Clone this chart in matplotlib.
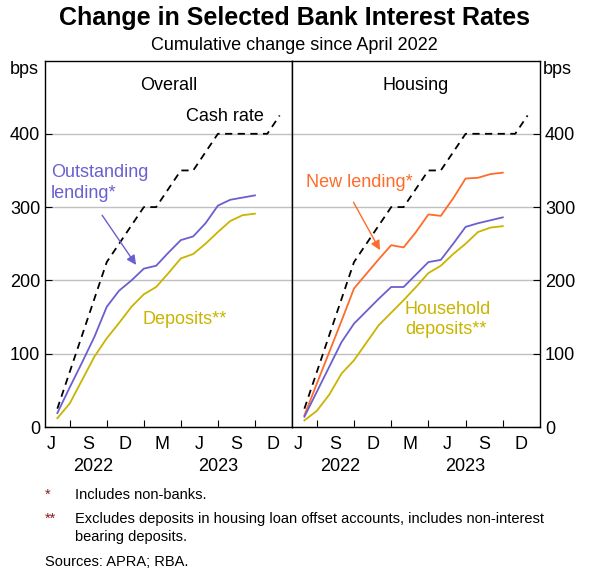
"""Change in selected bank interest rates: overall vs housing panels."""

import matplotlib
matplotlib.use("Agg")
import matplotlib.pyplot as plt

plt.rcParams["font.family"] = ["Liberation Sans", "DejaVu Sans"]

# months since end-June 2022 (month-end observations)
months = list(range(17))
cash_t = [0, 4, 5, 6, 7, 8, 9, 10, 11, 12, 13, 17, 18]
cash = [25, 225, 250, 275, 300, 300, 325, 350, 350, 375, 400, 400, 425]

overall_lending = [19, 54, 88, 123, 164, 186, 200, 216, 220, 238, 255, 260, 278, 302, 310, 313, 316]
overall_deposits = [12, 32, 64, 96, 121, 142, 164, 181, 191, 210, 230, 236, 250, 266, 281, 289, 291]

housing_new = [16, 59, 102, 145, 189, 209, 229, 248, 245, 266, 290, 288, 312, 339, 340, 345, 347]
housing_outstanding = [14, 48, 82, 116, 141, 158, 175, 191, 191, 208, 225, 228, 250, 273, 278, 282, 286]
housing_deposits = [9, 22, 44, 73, 91, 115, 139, 156, 173, 191, 210, 220, 236, 250, 266, 272, 274]

month_labels = ["J", "S", "D", "M", "J", "S", "D"]
month_pos = [-0.5, 2.5, 5.5, 8.5, 11.5, 14.5, 17.5]
year_labels = ["2022", "2023"]
year_pos = [2.9, 13.0]
yticks = [0, 100, 200, 300, 400]

PURPLE = "#6a5fd0"
GOLD = "#c9b400"
ORANGE = "#ff6b2b"
FS = 13

W, H = 589, 580
fig = plt.figure(figsize=(W / 100, H / 100), dpi=100)
ax_l = fig.add_axes([45 / W, 1 - 427 / H, 247 / W, 366.5 / H])
ax_r = fig.add_axes([292 / W, 1 - 427 / H, 248 / W, 366.5 / H])

for ax, title in [(ax_l, "Overall"), (ax_r, "Housing")]:
    ax.set_xlim(-1, 19)
    ax.set_ylim(0, 500)
    ax.set_yticks(yticks)
    ax.grid(axis="y", color="#c0c0c0", lw=1)
    ax.set_axisbelow(True)
    ax.set_xticks([1, 4, 7, 10, 13, 16], labels=[])
    ax.tick_params(axis="x", direction="in", length=5)
    ax.tick_params(axis="y", direction="in", length=5, labelsize=FS)
    for s in ax.spines.values():
        s.set_linewidth(1)
    ax.text(0.5, 0.955, title, transform=ax.transAxes, ha="center", va="top", fontsize=FS)
    for lab, p in zip(month_labels, month_pos):
        ax.text(p, -12, lab, ha="center", va="top", fontsize=FS)
    for lab, p in zip(year_labels, year_pos):
        ax.text(p, -42, lab, ha="center", va="top", fontsize=FS)
    ax.plot(cash_t, cash, color="black", ls=(0, (4, 3)), lw=1.3)

ax_l.tick_params(axis="y", labelleft=True, labelright=False)
ax_r.tick_params(axis="y", labelleft=False, labelright=True, left=False, right=True)
fig.text(10 / W, 1 - 70 / H, "bps", fontsize=FS, va="center")
fig.text(543 / W, 1 - 70 / H, "bps", fontsize=FS, va="center")

ax_l.plot(months, overall_lending, color=PURPLE, lw=1.3)
ax_l.plot(months, overall_deposits, color=GOLD, lw=1.3)
ax_r.plot(months, housing_new, color=ORANGE, lw=1.3)
ax_r.plot(months, housing_outstanding, color=PURPLE, lw=1.3)
ax_r.plot(months, housing_deposits, color=GOLD, lw=1.3)

ax_l.text(13.6, 424, "Cash rate", ha="center", va="center", fontsize=FS)
ax_l.text(-0.5, 333, "Outstanding\nlending*", ha="left", va="center", fontsize=FS,
          color=PURPLE, linespacing=1.25)
ax_l.annotate("", xy=(6.5, 218), xytext=(3.5, 292),
              arrowprops=dict(arrowstyle="-|>", color=PURPLE, lw=1, mutation_scale=14))
ax_l.text(10.3, 146, "Deposits**", ha="center", va="center", fontsize=FS, color=GOLD)

ax_r.text(0.1, 333, "New lending*", ha="left", va="center", fontsize=FS, color=ORANGE)
ax_r.annotate("", xy=(6.2, 238), xytext=(3.85, 310),
              arrowprops=dict(arrowstyle="-|>", color=ORANGE, lw=1, mutation_scale=14))
ax_r.text(8.1, 147, "Household\ndeposits**", ha="left", va="center", fontsize=FS,
          color=GOLD, linespacing=1.25)

fig.text(0.5, 1 - 18 / H, "Change in Selected Bank Interest Rates", ha="center", va="center",
         fontsize=18, fontweight="bold")
fig.text(0.5, 1 - 45 / H, "Cumulative change since April 2022", ha="center", va="center",
         fontsize=FS)

fn = 10.5
fig.text(45 / W, 1 - 495 / H, "*", fontsize=fn, va="center", color="#8b1a1a")
fig.text(75 / W, 1 - 495 / H, "Includes non-banks.", fontsize=fn, va="center")
fig.text(45 / W, 1 - 519 / H, "**", fontsize=fn, va="center", color="#8b1a1a")
fig.text(75 / W, 1 - 528 / H,
         "Excludes deposits in housing loan offset accounts, includes non-interest\nbearing deposits.",
         fontsize=fn, va="center", linespacing=1.35)
fig.text(45 / W, 1 - 562 / H, "Sources: APRA; RBA.", fontsize=fn, va="center")

fig.savefig("out.png", dpi=100)
